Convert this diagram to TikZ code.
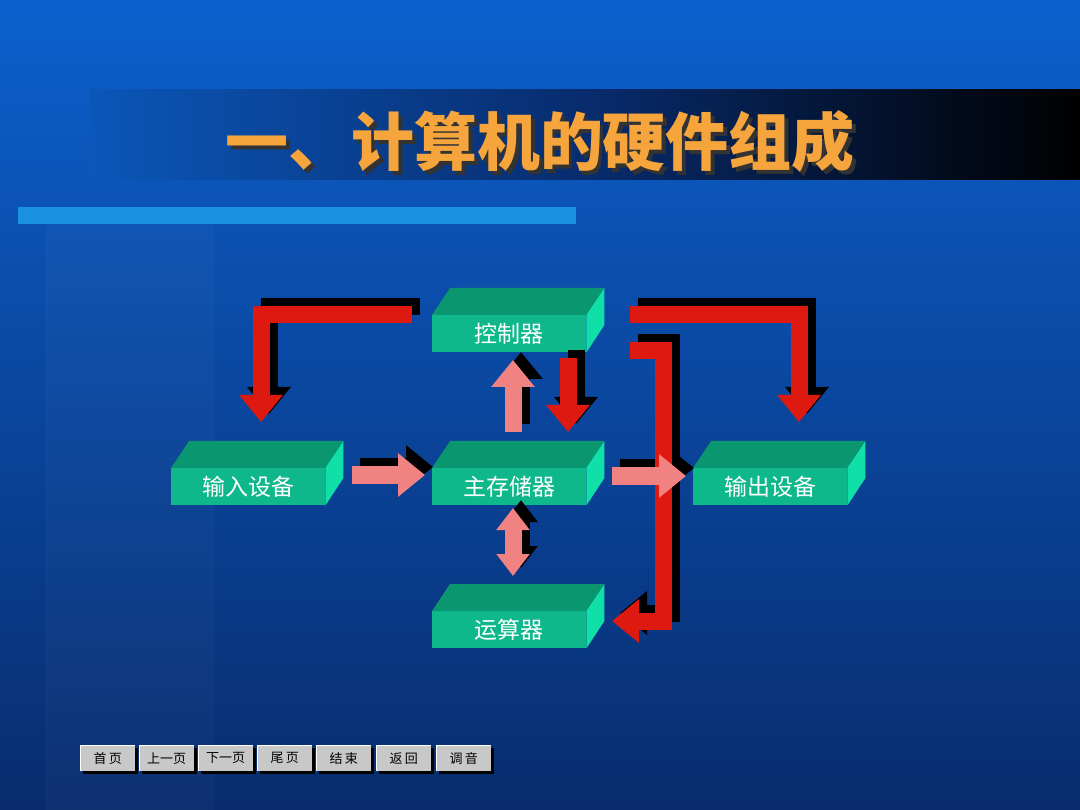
\documentclass[tikz,border=0pt]{standalone}
\usepackage{fontspec}
\newfontfamily\cjk{Noto Sans CJK SC}
\usetikzlibrary{arrows.meta}
\definecolor{bgtop}{RGB}{12,96,205}
\definecolor{bgbot}{RGB}{8,44,110}
\definecolor{bar}{RGB}{26,146,225}
\definecolor{ttl}{RGB}{245,165,60}
\definecolor{gfront}{RGB}{14,184,138}
\definecolor{gtop}{RGB}{10,150,110}
\definecolor{gside}{RGB}{16,224,168}
\definecolor{ared}{RGB}{222,26,16}
\definecolor{apink}{RGB}{240,130,130}
\definecolor{btn}{RGB}{200,200,200}
\tikzset{
  front/.style={fill=gfront,minimum width=154pt,minimum height=37pt,inner sep=0pt,text=white,font=\cjk\fontsize{23}{23}\selectfont},
  fat/.style={line width=17pt,-{Triangle[width=42pt,length=27pt]}},
  fatd/.style={line width=17pt,{Triangle[width=32pt,length=22pt]}-{Triangle[width=32pt,length=22pt]}},
  btnbox/.style={fill=btn,minimum width=55pt,minimum height=26pt,inner sep=0pt,font=\cjk\fontsize{13}{13}\selectfont,text=black}
}
\newcommand\gbox[4]{%
  \node[front,anchor=north west] (#1) at (#2,#3) {#4};
  \fill[gtop] (#1.north west) -- ++(18,-27) -- ++(154,0) -- (#1.north east) -- cycle;
  \fill[gside] (#1.north east) -- ++(18,-27) -- ++(0,37) -- (#1.south east) -- cycle;
}
\newcommand\btnb[3]{%
  \fill[black] (#2+3,748) rectangle (#2+58,774);
  \node[btnbox,anchor=north west] (#1) at (#2,745) {#3};
  \draw[white,line width=1pt] (#1.south west) -- (#1.north west) -- (#1.north east);
}
\begin{document}
\begin{tikzpicture}[x=1pt,y=-1pt]
\useasboundingbox (0,0) rectangle (1080,810);
\shade[top color=bgtop,bottom color=bgbot] (0,0) rectangle (1080,810);
\fill[white,opacity=0.025] (45,225) rectangle (215,810);
\shade[left color=bgtop!90!black,right color=black,middle color=bgbot] (90,90) rectangle (1080,180);
\node[font=\cjk\bfseries\fontsize{63}{63}\selectfont,text=ttl] (title) at (540,143) {\rlap{\kern4pt\raisebox{-4pt}{\color{black!80}一、计算机的硬件组成}}一、计算机的硬件组成};
\fill[bar] (18,207) rectangle (576,224);

\gbox{ctl}{432}{315}{控制器}
\gbox{in}{171}{468}{输入设备}
\gbox{mem}{432}{468}{主存储器}
\gbox{out}{693}{468}{输出设备}
\gbox{alu}{432}{611}{运算器}

\begin{scope}[shift={(8,-8)},black]
\draw[fat,line join=miter] (412,315) -- (261,315) -- (261,422);
\draw[fat,line join=miter] (630,315) -- (799,315) -- (799,422);
\draw[fat,line join=miter] (630,351) -- (663,351) -- (663,621) -- (612,621);
\draw[fat] (568,358) -- (568,432);
\draw[fat] (513,432) -- (513,360);
\draw[fat] (352,475) -- (425,475);
\draw[fat] (612,476) -- (686,476);
\draw[fatd] (513,508) -- (513,576);
\end{scope}
\draw[fat,ared,line join=miter] (412,315) -- (261,315) -- (261,422);
\draw[fat,ared,line join=miter] (630,315) -- (799,315) -- (799,422);
\draw[fat,ared,line join=miter] (630,351) -- (663,351) -- (663,621) -- (612,621);
\draw[fat,ared] (568,358) -- (568,432);
\draw[fat,apink] (513,432) -- (513,360);
\draw[fat,apink] (352,475) -- (425,475);
\draw[fat,apink] (612,476) -- (686,476);
\draw[fatd,apink] (513,508) -- (513,576);

\btnb{b1}{80}{首\,页}
\btnb{b2}{139}{上一页}
\btnb{b3}{198}{下一页}
\btnb{b4}{257}{尾\,页}
\btnb{b5}{316}{结\,束}
\btnb{b6}{376}{返\,回}
\btnb{b7}{436}{调\,音}
\end{tikzpicture}
\end{document}
